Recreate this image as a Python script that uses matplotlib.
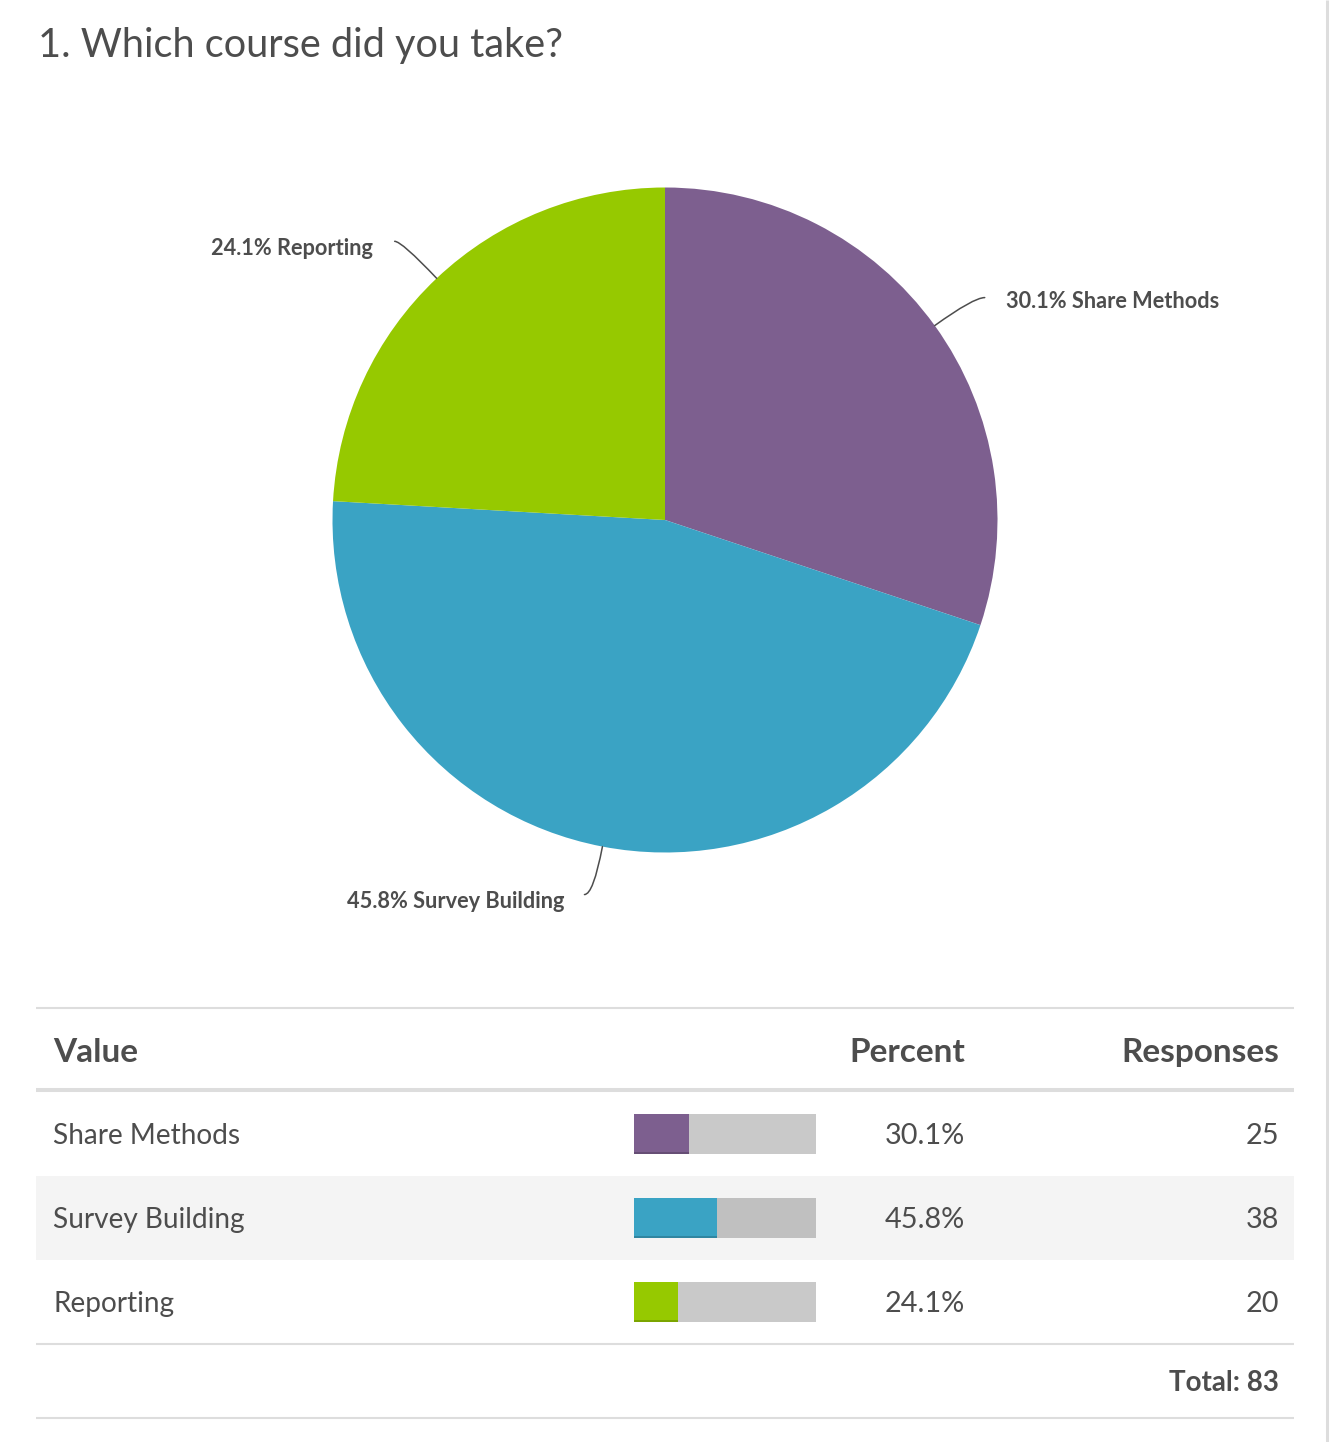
import numpy as np
import matplotlib.pyplot as plt
import matplotlib.colors as mcolors

plt.rcParams['font.family'] = ['Lato', 'DejaVu Sans']

# data
courses = ['Share Methods', 'Survey Building', 'Reporting']
responses = [25, 38, 20]
percents = [30.1, 45.8, 24.1]
slice_colors = ['#7d5f8f', '#3aa3c4', '#96c900']
title = '1. Which course did you take?'

TXT = '#4d4d4d'
LINE = '#dddddd'
W, H = 1340, 1442

fig = plt.figure(figsize=(W / 100, H / 100), dpi=100)
fig.patch.set_facecolor('white')

# pixel overlay for title + table
ax = fig.add_axes([0, 0, 1, 1])
ax.set_xlim(0, W)
ax.set_ylim(H, 0)
ax.axis('off')

ax.text(38, 57, title, fontsize=28.6, color=TXT, va='baseline', ha='left')

# right border of the page
ax.plot([1327, 1327], [0, H], color=LINE, lw=2.2, solid_capstyle='butt')

# table
x0, x1 = 36, 1294
ax.plot([x0, x1], [1008, 1008], color=LINE, lw=1.5, solid_capstyle='butt')
ax.plot([x0, x1], [1090, 1090], color=LINE, lw=2.9, solid_capstyle='butt')
ax.plot([x0, x1], [1344, 1344], color=LINE, lw=1.5, solid_capstyle='butt')
ax.plot([x0, x1], [1418, 1418], color=LINE, lw=1.5, solid_capstyle='butt')

ax.text(53, 1062, 'Value', fontsize=24, fontweight='bold', color=TXT, ha='left', va='baseline')
ax.text(965, 1062, 'Percent', fontsize=24, fontweight='bold', color=TXT, ha='right', va='baseline')
ax.text(1279, 1062, 'Responses', fontsize=24, fontweight='bold', color=TXT, ha='right', va='baseline')

row_y = 1134 + 84 * np.arange(len(courses))
bar_left, bar_w, bar_h = 634, 182, 40

for i, (name, pct, n, col) in enumerate(zip(courses, percents, responses, slice_colors)):
    y = row_y[i]
    if i % 2 == 1:
        ax.barh(y, x1 - x0, left=x0, height=84, color='#f4f4f4', zorder=0)
    ax.barh(y, bar_w, left=bar_left, height=bar_h, color='black', alpha=0.21, lw=0, zorder=1)
    ax.barh(y, pct / 100 * bar_w, left=bar_left, height=bar_h, color=col, lw=0, zorder=2)
    dark = np.array(mcolors.to_rgb(col)) * 0.82
    ax.barh(y + bar_h / 2 - 1, pct / 100 * bar_w, left=bar_left, height=2, color=dark, lw=0, zorder=3)
    ax.text(53, y + 10, name, fontsize=20.2, color=TXT, ha='left', va='baseline')
    ax.text(965, y + 10, f'{pct:.1f}%', fontsize=20.8, color=TXT, ha='right', va='baseline')
    ax.text(1279, y + 10, str(n), fontsize=20.8, color=TXT, ha='right', va='baseline')

ax.text(1279, 1391, f'Total: {sum(responses)}', fontsize=20, fontweight='bold',
        color=TXT, ha='right', va='baseline')

# pie
cx, cy, r = 665, 520, 332.5
pad = 20
pax = fig.add_axes([(cx - r - pad) / W, 1 - (cy + r + pad) / H, (2 * r + 2 * pad) / W, (2 * r + 2 * pad) / H])
wedges, _ = pax.pie(responses, colors=slice_colors, startangle=90, counterclock=False,
                    radius=1, wedgeprops=dict(linewidth=0))
lim = (r + pad) / r
pax.set_xlim(-lim, lim)
pax.set_ylim(-lim, lim)
pax.set_aspect('equal')
pax.axis('off')

# label placement (pixel offsets from slice edge): connector end, text anchor, alignment
label_style = [
    dict(conn=(50, 28), text=(71, 18), ha='left'),
    dict(conn=(-18, -48), text=(-38, -61), ha='right'),
    dict(conn=(-42, 37), text=(-64, 23), ha='right'),
]

for w, name, pct, st in zip(wedges, courses, percents, label_style):
    mid = np.deg2rad((w.theta1 + w.theta2) / 2)
    edge = (np.cos(mid), np.sin(mid))
    ang = np.rad2deg(mid)
    pax.annotate('', xy=edge, xytext=st['conn'], textcoords='offset pixels',
                 arrowprops=dict(arrowstyle='-', color='#4d4d4d', lw=1.1,
                                 shrinkA=0, shrinkB=0,
                                 connectionstyle=f'angle3,angleA=0,angleB={ang:.1f}'))
    pax.annotate(f'{pct:.1f}% {name}', xy=edge, xytext=st['text'], textcoords='offset pixels',
                 fontsize=15.7, fontweight='bold', color=TXT, ha=st['ha'], va='baseline',
                 annotation_clip=False)

fig.savefig('out.png', dpi=100, facecolor='white')
